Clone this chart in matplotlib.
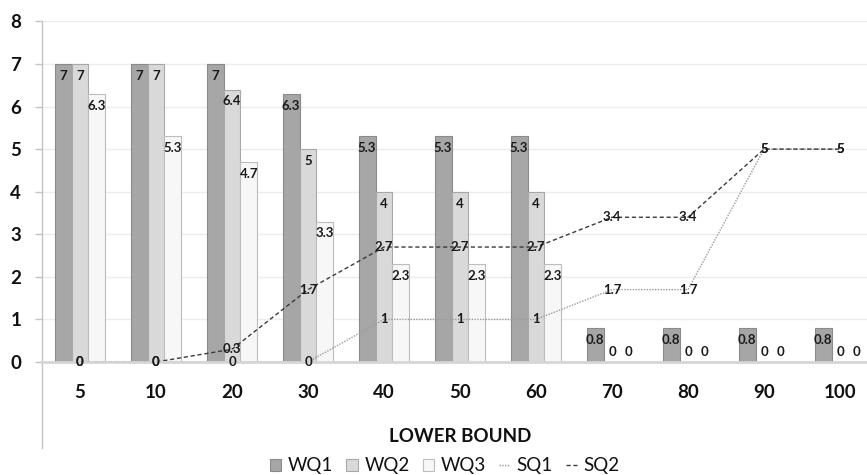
import numpy as np
import matplotlib
matplotlib.use("Agg")
import matplotlib.pyplot as plt
from matplotlib.lines import Line2D
from matplotlib.patches import Patch

plt.rcParams['font.family'] = ['Lato', 'DejaVu Sans']

# data
bounds = ['5', '10', '20', '30', '40', '50', '60', '70', '80', '90', '100']
wq1 = [7, 7, 7, 6.3, 5.3, 5.3, 5.3, 0.8, 0.8, 0.8, 0.8]
wq2 = [7, 7, 6.4, 5, 4, 4, 4, 0, 0, 0, 0]
wq3 = [6.3, 5.3, 4.7, 3.3, 2.3, 2.3, 2.3, 0, 0, 0, 0]
sq1 = [0, 0, 0, 0, 1, 1, 1, 1.7, 1.7, 5, 5]
sq2 = [0, 0, 0.3, 1.7, 2.7, 2.7, 2.7, 3.4, 3.4, 5, 5]

W, H = 867, 475
fig = plt.figure(figsize=(W / 100, H / 100), dpi=100)
# plot area: x from 42px, y=0 at 362px, y=8 at 21px
ax = fig.add_axes([42 / W, 1 - 362 / H, (W - 42) / W, (362 - 21.4) / H])

x = np.arange(len(bounds))
bw = 1 / 4.5
bar_styles = [
    ('WQ1', wq1, '#A6A6A6', '#8A8A8A'),
    ('WQ2', wq2, '#D9D9D9', '#A8A8A8'),
    ('WQ3', wq3, '#F7F7F7', '#BDBDBD'),
]
for i, (name, vals, fc, ec) in enumerate(bar_styles):
    xs = x + (i - 1) * bw
    ax.bar(xs, vals, width=bw, color=fc, edgecolor=ec, linewidth=0.8, zorder=2)
    for xi, v in zip(xs, vals):
        lbl = f'{v:g}'
        if v * 42.6 > 22:
            ax.annotate(lbl, (xi, v), xytext=(0, -8.6), textcoords='offset points',
                        ha='center', va='center', fontsize=9.5, fontweight='bold',
                        color='#1a1a1a', zorder=5)
        else:
            ax.annotate(lbl, (xi, 0), xytext=(0, 7.2), textcoords='offset points',
                        ha='center', va='center', fontsize=9.5, fontweight='bold',
                        color='#1a1a1a', zorder=5)

ax.plot(x, sq1, color='#9A9A9A', lw=1.0, ls=(0, (1, 1)), zorder=3)
ax.plot(x, sq2, color='#3A3A3A', lw=1.0, ls=(0, (3, 2)), zorder=3)
for vals in (sq1, sq2):
    for xi, v in zip(x, vals):
        ax.text(xi, v, f'{v:g}', ha='center', va='center', fontsize=9.5,
                fontweight='bold', color='#1a1a1a', zorder=5)

ax.set_xlim(-0.5, -0.5 + (W - 42) / 76)
ax.set_ylim(0, 8)
ax.set_yticks(range(0, 9))
ax.set_xticks(x)
ax.set_xticklabels(bounds)
ax.grid(axis='y', color='#EDEDED', lw=1, zorder=0)
ax.set_axisbelow(True)

for s in ('top', 'right'):
    ax.spines[s].set_visible(False)
ax.spines['bottom'].set_color('#D6D6D6')
ax.spines['bottom'].set_linewidth(2)
ax.spines['bottom'].set_zorder(4)
ax.spines['left'].set_color('#C4C4C4')
ax.spines['left'].set_linewidth(1)
# vertical axis line runs on below the category labels
ax.add_line(Line2D([0, 0], [0, -(448 - 362) / (362 - 21.4)], transform=ax.transAxes,
                   color='#C4C4C4', lw=1, clip_on=False))

ax.tick_params(axis='y', length=5, width=1, color='#C4C4C4', pad=10,
               labelsize=13.5)
ax.tick_params(axis='x', length=0, pad=16, labelsize=13.5)
for t in ax.get_yticklabels() + ax.get_xticklabels():
    t.set_fontweight('bold')
    t.set_color('#111111')

fig.text(460 / W, 1 - 436 / H, 'LOWER BOUND', ha='center', va='center',
         fontsize=13.5, fontweight='bold', color='#111111')

handles = [
    Patch(facecolor='#A6A6A6', edgecolor='#8A8A8A', lw=0.8),
    Patch(facecolor='#D9D9D9', edgecolor='#A8A8A8', lw=0.8),
    Patch(facecolor='#F7F7F7', edgecolor='#BDBDBD', lw=0.8),
    Line2D([], [], color='#9A9A9A', lw=1.0, ls=(0, (1, 1))),
    Line2D([], [], color='#3A3A3A', lw=1.0, ls=(0, (3, 2))),
]
fig.legend(handles, ['WQ1', 'WQ2', 'WQ3', 'SQ1', 'SQ2'], loc='center',
           bbox_to_anchor=(445 / W, 1 - 466 / H), ncol=5, frameon=False,
           fontsize=13.5, handlelength=0.6, handleheight=0.65,
           handletextpad=0.35, columnspacing=0.7, borderpad=0, borderaxespad=0,
           labelcolor='#111111')

fig.savefig('out.png', dpi=100)
